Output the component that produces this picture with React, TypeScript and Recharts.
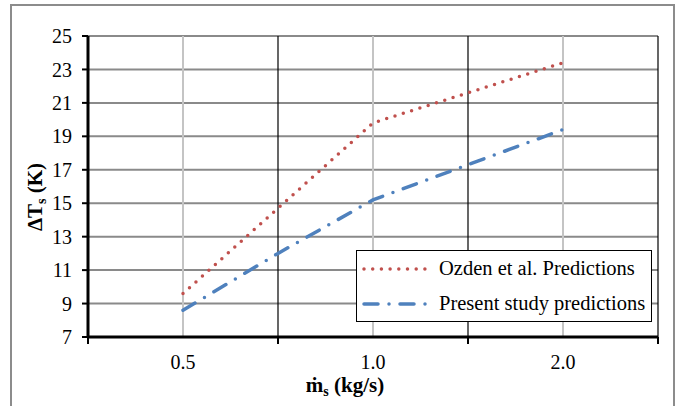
import React from "react";
import {
  CartesianGrid,
  Line,
  LineChart,
  ReferenceLine,
  XAxis,
  YAxis
} from "recharts";

const massFlow = ["0.5", "0.75", "1.0", "1.5", "2.0"];
const ozden = [9.6, 14.7, 19.8, 21.6, 23.4];
const present = [8.6, 12.0, 15.2, 17.3, 19.4];
const shownLabels = ["0.5", "1.0", "2.0"];
const yTicks = [7, 9, 11, 13, 15, 17, 19, 21, 23, 25];

const RED = "#C0504D";
const BLUE = "#4F81BD";
const FONT = "Liberation Serif";

const data = massFlow.map((m, i) => ({
  idx: i,
  m,
  ozden: ozden[i],
  present: present[i]
}));

// gray gridlines sit on the labelled categories, black ones between pairs
const grayX = massFlow.map((_, i) => i).filter(i => shownLabels.includes(massFlow[i]));
const blackX = [1, 3, 5];
const xTicks = [-1, 0, 1, 2, 3, 4, 5];

const series = [
  { key: "ozden", name: "Ozden et al. Predictions", color: RED, dash: "0 8.7" },
  { key: "present", name: "Present study predictions", color: BLUE, dash: "14 11 0 11" }
];

const XTick = (props: any) => {
  const { x, y, payload } = props;
  const v = payload.value;
  if (v % 2 !== 0) {
    return <line x1={x} x2={x} y1={y - 8} y2={y - 1} stroke="#000" strokeWidth={2} />;
  }
  return (
    <text x={x} y={y + 24} textAnchor="middle" fontSize={20} fontFamily={FONT} fill="#000">
      {massFlow[v]}
    </text>
  );
};

const LegendBox = () => (
  <div
    style={{
      position: "absolute",
      left: 356,
      top: 250,
      width: 296,
      height: 72,
      boxSizing: "border-box",
      border: "1.5px solid #000",
      background: "#fff",
      fontFamily: FONT,
      fontSize: 20.5,
      color: "#000",
      whiteSpace: "nowrap"
    }}
  >
    {series.map(s => (
      <div key={s.name} style={{ display: "flex", alignItems: "center", height: 35 }}>
        <svg width={78} height={20} style={{ marginLeft: 4, flexShrink: 0 }}>
          <line
            x1={3}
            x2={70}
            y1={10}
            y2={10}
            stroke={s.color}
            strokeWidth={3.5}
            strokeDasharray={s.dash}
            strokeLinecap="round"
          />
        </svg>
        <span>{s.name}</span>
      </div>
    ))}
  </div>
);

export default function App() {
  return (
    <div
      style={{
        position: "absolute",
        left: 0,
        top: 0,
        width: 681,
        height: 406,
        overflow: "hidden",
        background: "#fff"
      }}
    >
      <div
        style={{
          position: "absolute",
          left: 10,
          top: 4,
          width: 661,
          height: 500,
          border: "2px solid #8c8c8c"
        }}
      />
      <div style={{ position: "absolute", left: 0, top: 0 }}>
        <LineChart
          width={681}
          height={406}
          data={data}
          margin={{ top: 36, right: 23, bottom: 39, left: 28 }}
        >
          <CartesianGrid vertical={false} stroke="#8a8a8a" strokeWidth={2} />
          {grayX.map(x => (
            <ReferenceLine key={"g" + x} x={x} stroke="#c4c4c4" strokeWidth={2} />
          ))}
          {blackX.map(x => (
            <ReferenceLine key={"b" + x} x={x} stroke="#000" strokeWidth={1.2} />
          ))}
          <XAxis
            dataKey="idx"
            type="number"
            domain={[-1, 5]}
            ticks={xTicks}
            interval={0}
            height={30}
            tickLine={false}
            tick={<XTick />}
            axisLine={{ stroke: "#000", strokeWidth: 3 }}
            label={{
              content: () => (
                <text x={345} y={392} textAnchor="middle" fontSize={21} fontWeight="bold" fontFamily={FONT} fill="#000">
                  ṁ<tspan fontSize={14} dy={4}>s</tspan>
                  <tspan dy={-4}> (kg/s)</tspan>
                </text>
              )
            }}
          />
          <YAxis
            domain={[7, 25]}
            ticks={yTicks}
            interval={0}
            width={60}
            tickSize={6}
            tickMargin={10}
            tickLine={{ stroke: "#000", strokeWidth: 2 }}
            axisLine={{ stroke: "#000", strokeWidth: 3 }}
            tick={{ fontSize: 20, fontFamily: FONT, fill: "#000" }}
            label={{
              content: () => (
                <text
                  x={0}
                  y={0}
                  transform="translate(42 197) rotate(-90)"
                  textAnchor="middle"
                  fontSize={21}
                  fontWeight="bold"
                  fontFamily={FONT}
                  fill="#000"
                >
                  ΔT<tspan fontSize={14} dy={4}>s</tspan>
                  <tspan dy={-4}> (K)</tspan>
                </text>
              )
            }}
          />
          {series.map(s => (
            <Line
              key={s.key}
              dataKey={s.key}
              name={s.name}
              type="linear"
              stroke={s.color}
              strokeWidth={3.5}
              strokeDasharray={s.dash}
              strokeLinecap="round"
              dot={false}
              isAnimationActive={false}
            />
          ))}
        </LineChart>
      </div>
      <LegendBox />
    </div>
  );
}
